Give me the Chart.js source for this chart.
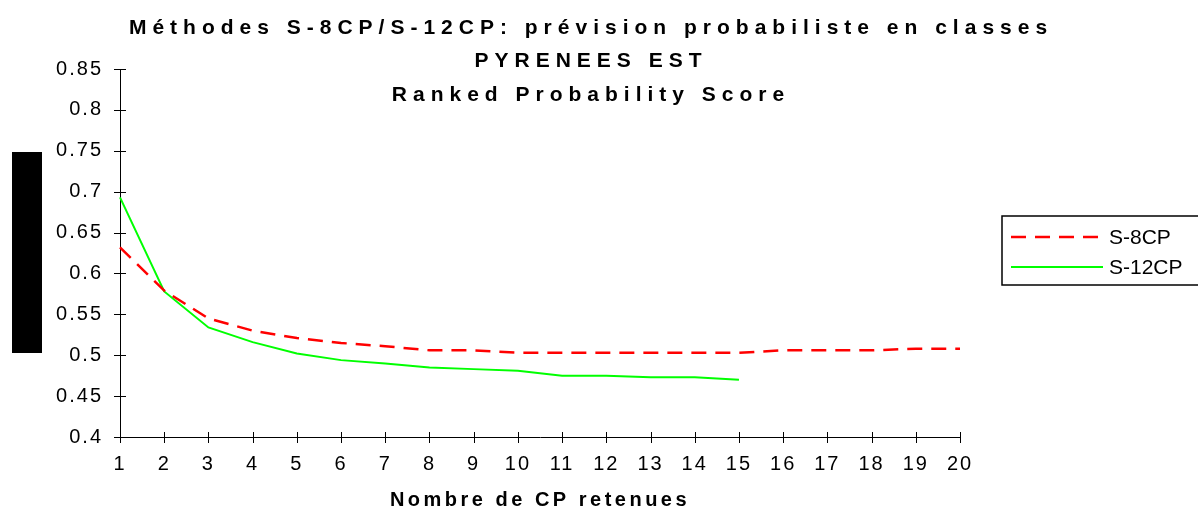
<!DOCTYPE html>
<html>
<head>
<meta charset="utf-8">
<script src="https://cdn.jsdelivr.net/npm/chart.js@4.4.1/dist/chart.umd.min.js"></script>
<style>
  html, body { margin: 0; padding: 0; background: #fff; }
  #wrap { position: relative; width: 1198px; height: 511px; }
  #bar { position: absolute; left: 12px; top: 152px; width: 30px; height: 201px; background: #000; }
</style>
</head>
<body>
<div id="wrap">
  <canvas id="rps" width="1198" height="511"></canvas>
  <div id="bar"></div>
</div>
<script>
// Nombre de composantes principales retenues
const nbCP = [1, 2, 3, 4, 5, 6, 7, 8, 9, 10, 11, 12, 13, 14, 15, 16, 17, 18, 19, 20];

// RPS moyen par methode
const s8cp = [0.632, 0.579, 0.545, 0.530, 0.521, 0.515, 0.511, 0.506, 0.506, 0.503,
              0.503, 0.503, 0.503, 0.503, 0.503, 0.506, 0.506, 0.506, 0.508, 0.508];
const s12cp = [0.693, 0.578, 0.534, 0.516, 0.502, 0.494, 0.490, 0.485, 0.483, 0.481,
               0.475, 0.475, 0.473, 0.473, 0.470, null, null, null, null, null];

const yMin = 0.4;
const yMax = 0.85;
const yStep = 0.05;

const titleLines = [
  "Méthodes S-8CP/S-12CP: prévision probabiliste en classes",
  "PYRENEES EST",
  "Ranked Probability Score"
];
const xTitle = "Nombre de CP retenues";

const FONT = "'Liberation Sans', Arial, sans-serif";

// tick marks crossing both axes, like the old spreadsheet charts
const crossTicks = {
  id: "crossTicks",
  afterDraw(chart) {
    const { ctx, chartArea, scales } = chart;
    ctx.save();
    ctx.letterSpacing = "0px";
    ctx.strokeStyle = "#000";
    ctx.lineWidth = 1;
    ctx.beginPath();
    scales.y.ticks.forEach((t, i) => {
      const y = Math.round(scales.y.getPixelForTick(i)) + 0.5;
      ctx.moveTo(chartArea.left - 6, y);
      ctx.lineTo(chartArea.left + 6, y);
    });
    scales.x.ticks.forEach((t, i) => {
      const x = Math.round(scales.x.getPixelForTick(i)) + 0.5;
      ctx.moveTo(x, chartArea.bottom - 5);
      ctx.lineTo(x, chartArea.bottom + 6);
    });
    ctx.stroke();
    ctx.restore();
  }
};

// spaced-out tick labels
const spacing = {
  id: "spacing",
  beforeDraw(chart) { chart.ctx.letterSpacing = "2px"; },
  afterDraw(chart) { chart.ctx.letterSpacing = "0px"; }
};

// three-line title and the axis title, drawn with wide letter spacing
const titles = {
  id: "titles",
  afterDraw(chart) {
    const { ctx, chartArea } = chart;
    ctx.save();
    ctx.fillStyle = "#000";
    ctx.textAlign = "center";
    ctx.textBaseline = "alphabetic";
    ctx.font = "bold 21px " + FONT;
    ctx.letterSpacing = "6px";
    const cx = chart.width / 2 - 8;
    [34, 67, 101].forEach((y, i) => ctx.fillText(titleLines[i], cx, y));
    ctx.font = "bold 20px " + FONT;
    ctx.letterSpacing = "3.5px";
    ctx.fillText(xTitle, (chartArea.left + chartArea.right) / 2, 506);
    ctx.restore();
  }
};

// boxed legend to the right of the plot
const boxLegend = {
  id: "boxLegend",
  afterDraw(chart) {
    const { ctx, chartArea } = chart;
    const left = chartArea.right + 42;
    const top = 216;
    ctx.save();
    ctx.strokeStyle = "#000";
    ctx.lineWidth = 1.5;
    ctx.strokeRect(left, top, chart.width - left + 5, 69);
    ctx.font = "21px " + FONT;
    ctx.textBaseline = "middle";
    ctx.fillStyle = "#000";
    chart.data.datasets.forEach((ds, i) => {
      const y = top + 21 + i * 30;
      ctx.beginPath();
      ctx.strokeStyle = ds.borderColor;
      ctx.lineWidth = ds.borderWidth;
      ctx.setLineDash(ds.borderDash || []);
      ctx.moveTo(left + 9, y);
      ctx.lineTo(left + 101, y);
      ctx.stroke();
      ctx.setLineDash([]);
      ctx.fillText(ds.label, left + 107, y + 1);
    });
    ctx.restore();
  }
};

new Chart(document.getElementById("rps"), {
  type: "line",
  data: {
    labels: nbCP,
    datasets: [
      {
        label: "S-8CP",
        data: s8cp,
        borderColor: "#ff0000",
        borderWidth: 2.5,
        borderDash: [15, 9],
        pointRadius: 0,
        tension: 0,
        fill: false
      },
      {
        label: "S-12CP",
        data: s12cp,
        borderColor: "#00ff00",
        borderWidth: 2,
        pointRadius: 0,
        tension: 0,
        fill: false,
        spanGaps: false
      }
    ]
  },
  options: {
    responsive: false,
    animation: false,
    layout: { padding: { left: 0, top: 69, right: 238, bottom: 0 } },
    plugins: {
      legend: { display: false },
      title: { display: false },
      tooltip: { enabled: false }
    },
    scales: {
      x: {
        type: "category",
        offset: false,
        grid: { display: true, drawOnChartArea: false, drawTicks: false },
        border: { display: true, color: "#000", width: 1 },
        ticks: {
          color: "#000",
          font: { family: FONT, size: 20 },
          padding: 15,
          maxRotation: 0,
          autoSkip: false
        },
        afterFit(scale) { scale.height = 74; }
      },
      y: {
        min: yMin,
        max: yMax,
        grid: { display: true, drawOnChartArea: false, drawTicks: false },
        border: { display: true, color: "#000", width: 1 },
        ticks: {
          stepSize: yStep,
          color: "#000",
          font: { family: FONT, size: 20 },
          padding: 17,
          callback: (v) => String(parseFloat(v.toFixed(2)))
        },
        afterFit(scale) { scale.width = 120; }
      }
    }
  },
  plugins: [spacing, crossTicks, titles, boxLegend]
});
</script>
</body>
</html>
